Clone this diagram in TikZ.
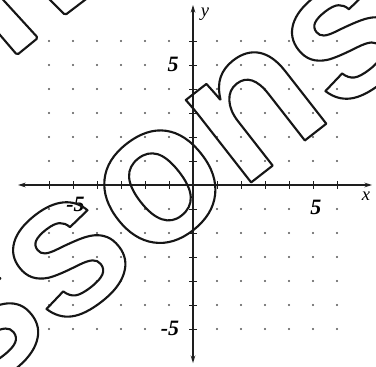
\documentclass[tikz,border=0pt]{standalone}
\usepackage{fontspec}
\setmainfont{Liberation Serif}
\newfontfamily\wmfont{Liberation Sans}
\usepackage{xcolor}
\definecolor{axisInk}{HTML}{1E1E1E}
\definecolor{dotInk}{HTML}{555555}
\definecolor{wmInk}{HTML}{161616}
\usetikzlibrary{arrows.meta}
% outlined glyphs (stroke only)
\newcommand\outlinetext[1]{\special{pdf:literal 1 Tr 2.5 w 1 j}#1\special{pdf:literal 0 Tr}}

\begin{document}
\begin{tikzpicture}[
  axis/.style={draw=axisInk, line width=1.5pt, {Stealth[length=9pt, width=5.5pt]}-{Stealth[length=9pt, width=5.5pt]}},
  tick/.style={draw=axisInk, line width=0.6pt},
  gdot/.style={fill=dotInk},
  num/.style={font=\fontsize{26}{26}\selectfont\bfseries\itshape, inner sep=0pt},
  lbl/.style={font=\fontsize{22}{22}\selectfont\itshape, inner sep=0pt},
  wm/.style={draw=wmInk, line width=2.5pt, rounded corners=2pt, line join=round},
]
  \clip (-8.042,-7.583) rectangle (7.625,7.708);
  \fill[white] (-8.042,-7.583) rectangle (7.625,7.708);

  % dot paper
  \foreach \i in {-6,...,6}
    \foreach \j in {-6,...,6} {
      \pgfmathtruncatemacro\nodot{(\i==0)||(\j==0)||(\i==-1&&\j==5)||(\i==-1&&\j==-6)||(\i==5&&\j==-1)||(\i==-5&&\j==-1)}
      \ifnum\nodot=0 \fill[gdot] (\i,\j) circle (0.05); \fi
    }

  \foreach \k in {-6,...,6} {
    \draw[tick] (\k,-0.15) -- (\k,0.15);
    \draw[tick] (-0.15,\k) -- (0.15,\k);
  }

  \coordinate (xl) at (-7.29,0);
  \coordinate (xr) at (7.46,0);
  \coordinate (yt) at (0,7.5);
  \coordinate (yb) at (0,-7.42);
  \draw[axis] (xl) -- (xr);
  \draw[axis] (yb) -- (yt);

  \node[lbl] (xname) at (7.21,-0.46) {x};
  \node[lbl] (yname) at (0.5,7.13) {y};
  \node[num] (ypos) at (-0.83,5.04) {5};
  \node[num] (yneg) at (-0.96,-5.96) {-5};
  \node[num] (xpos) at (5.12,-0.92) {5};
  \node[num] (xneg) at (-4.9,-0.8) {-5};

  % watermark
  \node[rotate=38, inner sep=0pt, text=wmInk] (mark) at (-1.2,0.06)
    {\wmfont\bfseries\fontsize{236}{236}\selectfont\outlinetext{ssons}};
  \draw[wm] (-8.29,8.13) -- (-6.46,6.13) -- (-7.33,5.42) -- (-8.46,6.74);
  \draw[wm] (-6.38,8.13) -- (-5.33,7.08) -- (-3.95,8.13);
\end{tikzpicture}
\end{document}
